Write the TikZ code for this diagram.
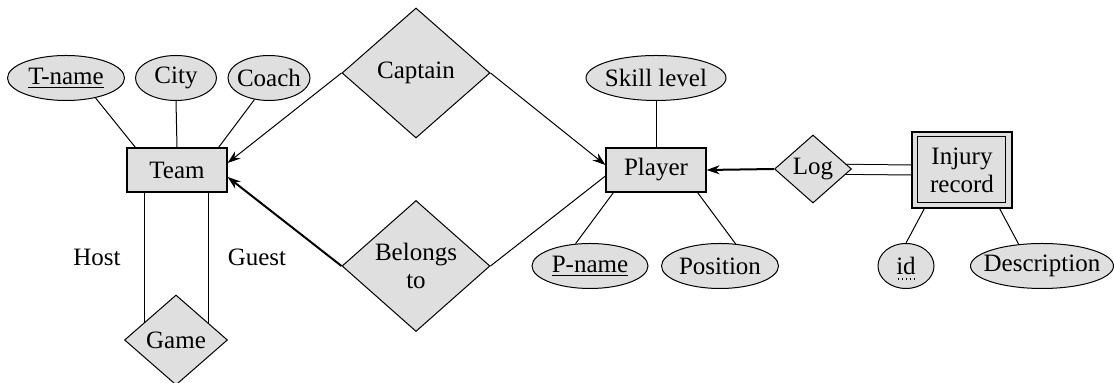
\documentclass[tikz,border=0pt]{standalone}
\usepackage{fontspec}
\setmainfont{Liberation Serif}
\usetikzlibrary{shapes.geometric,arrows.meta,calc,backgrounds}
\definecolor{erfill}{gray}{0.875}
\begin{document}
\begin{tikzpicture}[x=0.5pt,y=-0.5pt,
 font=\fontsize{12.5}{14}\selectfont,
 every node/.style={inner sep=0pt},
 ent/.style={draw, fill=erfill, minimum width=50pt, minimum height=22pt, line width=0.6pt},
 rel/.style={diamond, draw, fill=erfill, line width=0.5pt, align=center},
 att/.style={ellipse, draw, fill=erfill, minimum height=22.5pt, line width=0.5pt},
 conn/.style={line width=0.5pt},
 arr/.style={-{Stealth[length=6.5pt,width=4.5pt]}, line width=0.5pt},
 thickarr/.style={-{Stealth[length=6.5pt,width=4.5pt]}, line width=1pt},
]
\useasboundingbox (0,0) rectangle (1114,383);

\node[att, minimum width=58.5pt] (tname) at (66,78) {\makebox[0pt]{\underline{T-name}}};
\node[att, minimum width=40.5pt] (city) at (176,78) {\makebox[0pt]{City}};
\node[att, minimum width=41pt] (coach) at (269,78) {\makebox[0pt]{Coach}};
\node[ent] (team) at (177,170) {Team};
\node[rel, minimum width=74pt, minimum height=65pt] (captain) at (416,73) {Captain};
\node[rel, minimum width=74pt, minimum height=65.5pt] (belongs) at (416,266) {Belongs\\to};
\node[rel, minimum width=51.5pt, minimum height=45pt] (game) at (176,340) {Game};
\node (host) at (97,257) {Host};
\node (guest) at (257,257) {Guest};
\node[att, minimum width=70pt] (skill) at (656,78) {\makebox[0pt]{Skill level}};
\node[ent] (player) at (656,170) {Player};
\node[att, minimum width=58pt] (pname) at (590,266) {\makebox[0pt]{\underline{P-name}}};
\node[att, minimum width=58.5pt] (position) at (720,266) {\makebox[0pt]{Position}};
\node[rel, minimum width=38.5pt, minimum height=34pt] (log) at (813,169) {Log};
\node[ent, minimum width=50pt, minimum height=38pt, align=center] (inj) at (962,170) {Injury\\record};
\draw[line width=0.5pt] ($(inj.north west)+(6,5)$) rectangle ($(inj.south east)+(-7,-6)$);
\node[att, minimum width=28pt] (id) at (906,266) {\makebox[0pt]{id}};
\draw[line width=0.7pt, dash pattern=on 0.7pt off 1.3pt] ($(id.center)+(-8,13)$) -- ($(id.center)+(9,13)$);
\node[att, minimum width=71.5pt] (desc) at (1042,266) {\makebox[0pt]{Description}};

\coordinate (hostTop) at ($(team.south west)+(18,0)$);
\coordinate (guestTop) at ($(team.south east)+(-19,0)$);

\begin{scope}[on background layer]
\draw[conn] (tname.-34) -- ($(team.north west)+(9,0)$);
\draw[conn] (city.south) -- (team.north);
\draw[conn] (coach.-124) -- ($(team.north east)+(-9,0)$);
\draw[conn] (hostTop) -- (hostTop |- game.center);
\draw[conn] (guestTop) -- (guestTop |- game.center);
\draw[arr] (captain.west) -- ($(team.east)+(0,-7)$);
\draw[arr] (captain.east) -- ($(player.west)+(0,-5)$);
\draw[thickarr] (belongs.west) -- ($(team.east)+(0,7)$);
\draw[conn] (belongs.east) -- ($(player.west)+(0,6)$);
\draw[conn] (skill.south) -- (player.north);
\draw[conn] (pname.123) -- ($(player.south west)+(8,0)$);
\draw[conn] (position.55) -- ($(player.south east)+(-9,0)$);
\draw[thickarr] (log.west) -- (player.east);
\draw[line width=0.5pt, double, double distance=4.5pt] (log.center) -- (inj.west);
\draw[conn] (id.north) -- ($(inj.south west)+(13,0)$);
\draw[conn] (desc.137) -- ($(inj.south east)+(-13,0)$);
\end{scope}
\end{tikzpicture}
\end{document}
